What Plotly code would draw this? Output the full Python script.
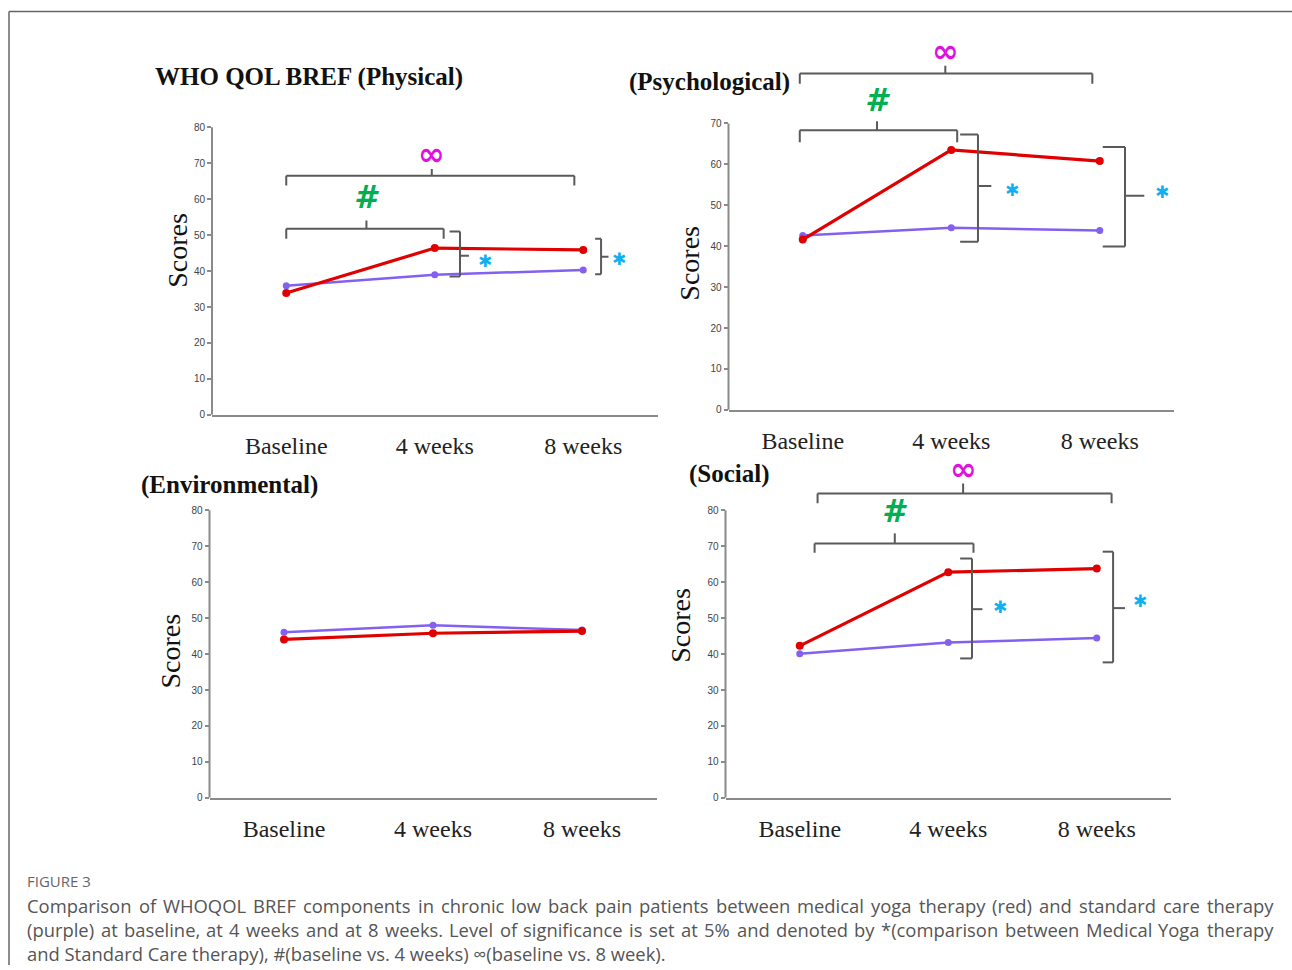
import plotly.graph_objects as go

W, H = 1292, 970

# ---------------- data ----------------
categories = ["Baseline", "4 weeks", "8 weeks"]

physical_yoga = [33.9, 46.4, 45.9]
physical_standard = [35.9, 39.0, 40.3]

psychological_yoga = [41.6, 63.5, 60.8]
psychological_standard = [42.6, 44.5, 43.8]

environmental_yoga = [44.1, 45.8, 46.4]
environmental_standard = [46.1, 48.0, 46.7]

social_yoga = [42.3, 62.8, 63.8]
social_standard = [40.1, 43.2, 44.5]

panel_titles = ["WHO QOL BREF (Physical)", "(Psychological)", "(Environmental)", "(Social)"]
y_label = "Scores"

caption_head = "FIGURE 3"
caption_lines = [
    "Comparison of WHOQOL BREF components in chronic low back pain patients between medical yoga therapy (red) and standard care therapy",
    "(purple) at baseline, at 4 weeks and at 8 weeks. Level of significance is set at 5% and denoted by *(comparison between Medical Yoga therapy",
    "and Standard Care therapy), #(baseline vs. 4 weeks) \u221e(baseline vs. 8 week).",
]

# ---------------- styles ----------------
RED = "#e00000"
PURPLE = "#8460f0"
BRACKET = "#5a5a5a"
AXIS = "#8a8a8a"
MAGENTA = "#e010e0"
GREEN = "#00b050"
CYAN = "#10b0f0"
SERIF = "Liberation Serif, Times New Roman, serif"

xs = list(range(len(categories)))

panels = [
    dict(yoga=physical_yoga, std=physical_standard, px=(212, 657.5), py0=417, unit=3.6125,
         ytop_range=82, ytop=80, title_xy=(153, 77), scores_xy=(178, 252),
         hbr=[(0.0, 1.94, 66.5, 2.7, 1.9, 0.98, "\u221e", MAGENTA, 72.6),
              (0.0, 1.06, 51.8, 2.8, 2.3, 0.54, "#", GREEN, 60.6)],
         vbr=[(1.10, 1.17, 51.0, 38.5, 44.3, 1.23, 1.34, 42.7),
              (2.08, 2.12, 49.0, 39.1, 44.0, 2.17, 2.24, 43.5)]),
    dict(yoga=psychological_yoga, std=psychological_standard, px=(728.5, 1174), py0=412, unit=4.114,
         ytop_range=91, ytop=70, title_xy=(627, 82), scores_xy=(690, 264),
         hbr=[(-0.02, 1.95, 82.2, 2.5, 1.9, 0.96, "\u221e", MAGENTA, 87.8),
              (-0.02, 1.04, 68.3, 2.9, 2.2, 0.50, "#", GREEN, 75.8)],
         vbr=[(1.06, 1.18, 67.3, 41.1, 54.7, 1.27, 1.41, 53.7),
              (2.02, 2.17, 64.2, 39.9, 52.3, 2.30, 2.42, 53.2)]),
    dict(yoga=environmental_yoga, std=environmental_standard, px=(209.5, 656.5), py0=802, unit=3.6125,
         ytop_range=82, ytop=80, title_xy=(139, 488), scores_xy=(171, 655),
         hbr=[], vbr=[]),
    dict(yoga=social_yoga, std=social_standard, px=(725.5, 1171), py0=802, unit=3.6125,
         ytop_range=94, ytop=80, title_xy=(687, 476), scores_xy=(681, 629),
         hbr=[(0.12, 2.10, 84.7, 2.7, 2.8, 1.10, "\u221e", MAGENTA, 91.4),
              (0.10, 1.17, 70.8, 2.6, 2.8, 0.64, "#", GREEN, 79.7)],
         vbr=[(1.08, 1.16, 66.6, 38.8, 52.5, 1.23, 1.35, 53.1),
              (2.04, 2.11, 68.5, 37.7, 52.8, 2.19, 2.29, 54.8)]),
]

fig = go.Figure()
shapes = []
annotations = []
layout = {}

for i, p in enumerate(panels):
    n = "" if i == 0 else str(i + 1)
    xa, ya = "x" + n, "y" + n
    fig.add_trace(go.Scatter(x=xs, y=p["std"], mode="lines+markers", xaxis=xa, yaxis=ya,
                             line=dict(color=PURPLE, width=2.5),
                             marker=dict(color=PURPLE, size=7), showlegend=False,
                             name="Standard care"))
    fig.add_trace(go.Scatter(x=xs, y=p["yoga"], mode="lines+markers", xaxis=xa, yaxis=ya,
                             line=dict(color=RED, width=3.2),
                             marker=dict(color=RED, size=8), showlegend=False,
                             name="Medical yoga"))
    top_px = p["py0"] - p["ytop_range"] * p["unit"]
    layout["xaxis" + n] = dict(
        domain=[p["px"][0] / W, p["px"][1] / W], anchor=ya, range=[-0.5, 2.5],
        tickvals=xs, ticktext=categories, showline=True, linecolor=AXIS, linewidth=2,
        showgrid=False, zeroline=False, ticks="", ticklabelstandoff=8,
        tickfont=dict(family=SERIF, size=24, color="#222"), fixedrange=True)
    layout["yaxis" + n] = dict(
        domain=[1 - p["py0"] / H, 1 - top_px / H], anchor=xa, range=[0, p["ytop_range"]],
        tickvals=list(range(0, p["ytop"] + 1, 10)), showline=False, showgrid=False,
        zeroline=False, ticks="outside", ticklen=4, tickcolor=AXIS, tickwidth=1.5,
        tickfont=dict(family="Liberation Sans Narrow, Liberation Sans, sans-serif", size=10, color="#444"),
        fixedrange=True)
    # y axis line (only up to the top tick)
    shapes.append(dict(type="line", xref=xa + " domain", yref=ya, x0=0, x1=0, y0=0, y1=p["ytop"],
                       line=dict(color=AXIS, width=2)))
    # horizontal comparison brackets
    for (x0, x1, yb, drop, up, xc, sym, col, ysym) in p["hbr"]:
        for seg in [(x0, yb - drop, x0, yb), (x0, yb, x1, yb), (x1, yb, x1, yb - drop), (xc, yb, xc, yb + up)]:
            shapes.append(dict(type="line", xref=xa, yref=ya, x0=seg[0], y0=seg[1], x1=seg[2], y1=seg[3],
                               line=dict(color=BRACKET, width=2)))
        if sym == "#":
            annotations.append(dict(text="<b><i>#</i></b>", x=xc, y=ysym, xref=xa, yref=ya, showarrow=False,
                                    font=dict(family="DejaVu Sans", size=32, color=col)))
        else:
            annotations.append(dict(text="<b>" + sym + "</b>", x=xc, y=ysym, xref=xa, yref=ya, showarrow=False,
                                    font=dict(family="DejaVu Sans", size=32, color=col)))
    # vertical group-comparison braces
    for (xa0, xb, yt, ybm, ym, xt, xs_, ys_) in p["vbr"]:
        for seg in [(xa0, yt, xb, yt), (xb, yt, xb, ybm), (xa0, ybm, xb, ybm), (xb, ym, xt, ym)]:
            shapes.append(dict(type="line", xref=xa, yref=ya, x0=seg[0], y0=seg[1], x1=seg[2], y1=seg[3],
                               line=dict(color=BRACKET, width=2)))
        annotations.append(dict(text="\u2731", x=xs_, y=ys_, xref=xa, yref=ya, showarrow=False,
                                font=dict(family="DejaVu Sans", size=17, color=CYAN)))
    # panel title
    tx, ty = p["title_xy"]
    annotations.append(dict(text="<b>" + panel_titles[i] + "</b>", x=tx / W, y=1 - ty / H, xref="paper",
                            yref="paper", xanchor="left", yanchor="middle", showarrow=False,
                            font=dict(family=SERIF, size=25, color="#111")))
    sx, sy = p["scores_xy"]
    annotations.append(dict(text=y_label, x=sx / W, y=1 - sy / H, xref="paper", yref="paper",
                            xanchor="center", yanchor="middle", textangle=-90, showarrow=False,
                            font=dict(family=SERIF, size=28, color="#111")))

# ---------------- frame ----------------
shapes.append(dict(type="line", xref="paper", yref="paper", x0=9 / W, x1=1.0, y0=1 - 11.5 / H, y1=1 - 11.5 / H,
                   line=dict(color="#666", width=1.5)))
shapes.append(dict(type="line", xref="paper", yref="paper", x0=9 / W, x1=9 / W, y0=1 - 11.5 / H, y1=0,
                   line=dict(color="#666", width=1.5)))

# ---------------- caption ----------------
CAP_FONT = "Open Sans"
CAP_SIZE = 18.4
OS = {' ': 532, '!': 565, '#': 1323, '%': 1741, "'": 498, '(': 606, ')': 606, '*': 1128, ',': 502,
      '-': 659, '.': 545, ':': 545, ';': 545, '\u221e': 1700,
      'A': 1296, 'B': 1327, 'C': 1292, 'D': 1493, 'E': 1139, 'F': 1057, 'G': 1491, 'H': 1511, 'I': 571,
      'J': 547, 'K': 1257, 'L': 1073, 'M': 1849, 'N': 1544, 'O': 1595, 'P': 1233, 'Q': 1595, 'R': 1266,
      'S': 1104, 'T': 1120, 'U': 1511, 'V': 1237, 'W': 1901, 'X': 1219, 'Y': 1163, 'Z': 1149,
      'a': 1139, 'b': 1255, 'c': 975, 'd': 1255, 'e': 1149, 'f': 694, 'g': 1122, 'h': 1257, 'i': 518,
      'j': 518, 'k': 1075, 'l': 518, 'm': 1905, 'n': 1257, 'o': 1237, 'p': 1255, 'q': 1255, 'r': 836,
      's': 977, 't': 723, 'u': 1257, 'v': 1026, 'w': 1593, 'x': 1073, 'y': 1028, 'z': 977}


def text_w(s, size):
    return sum(OS.get(c, 1169) for c in s) / 2048.0 * size


annotations.append(dict(text=caption_head, x=25 / W, y=1 - 886 / H, xref="paper", yref="paper",
                        xanchor="left", yanchor="middle", showarrow=False,
                        font=dict(family=CAP_FONT, size=15, color="#666")))
line_y = [910, 934, 958]
left, right = 25, 1271
for k, line in enumerate(caption_lines):
    yy = 1 - line_y[k] / H
    if k < len(caption_lines) - 1:
        words = line.split(" ")
        widths = [text_w(wd, CAP_SIZE) for wd in words]
        gap = (right - left - sum(widths)) / (len(words) - 1)
        xcur = left
        for wd, wdw in zip(words, widths):
            annotations.append(dict(text=wd, x=xcur / W, y=yy, xref="paper", yref="paper",
                                    xanchor="left", yanchor="middle", showarrow=False,
                                    font=dict(family=CAP_FONT, size=CAP_SIZE, color="#555")))
            xcur += wdw + gap
    else:
        annotations.append(dict(text=line, x=left / W, y=yy, xref="paper", yref="paper",
                                xanchor="left", yanchor="middle", showarrow=False,
                                font=dict(family=CAP_FONT, size=CAP_SIZE, color="#555")))

fig.update_layout(width=W, height=H, margin=dict(l=0, r=0, t=0, b=0),
                  paper_bgcolor="white", plot_bgcolor="white",
                  shapes=shapes, annotations=annotations, **layout)

fig.write_html("out.html", config={"displayModeBar": False},
               post_script="document.body.style.margin='0px';document.body.style.overflow='hidden';")
